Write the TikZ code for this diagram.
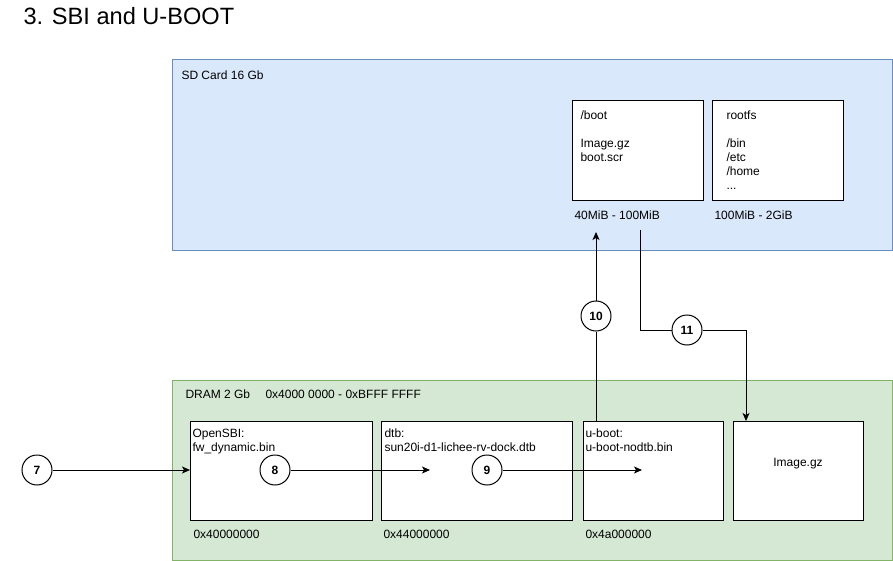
\documentclass[tikz,border=0pt]{standalone}
\usepackage{fontspec}
\setmainfont{Liberation Sans}
\usetikzlibrary{positioning}
\usetikzlibrary{arrows.meta}

\definecolor{sdfill}{HTML}{DAE8FC}
\definecolor{sdline}{HTML}{6C8EBF}
\definecolor{ramfill}{HTML}{D5E8D4}
\definecolor{ramline}{HTML}{82B366}

\begin{document}
\begin{tikzpicture}
  [x=1pt,y=-1pt,line width=1pt,
  every node/.style={font=\fontsize{12}{14}\selectfont},
  area/.style={draw,anchor=north west,inner sep=0pt,minimum width=720pt},
  part/.style={draw=black,fill=white,anchor=north west,inner sep=0pt,minimum height=99pt},
  txt/.style={anchor=north west,inner sep=0pt,align=left},
  stepno/.style={circle,draw=black,fill=white,minimum size=30pt,inner sep=0pt,font=\fontsize{12}{14}\selectfont\bfseries},
  arr/.style={-{Stealth[length=8pt,width=7pt,inset=2pt]}}]
  \useasboundingbox (0,0) rectangle (893,561);

  \node[txt,font=\fontsize{23.6}{27}\selectfont] (title) at (23,6.5) {3. SBI and U-BOOT};

  % sd card
  \node[area,fill=sdfill,draw=sdline,minimum height=191pt] (sd) at (172,59) {};
  \node[txt] (sdtxt) at (181,70.6) {SD Card 16 Gb};
  \node[part,minimum width=131pt,minimum height=100pt] (boot) at (572,100) {};
  \node[part,minimum width=131pt,minimum height=100pt] (rootfs) at (712,100) {};
  \node[txt] (boottxt) at (580,110.6) {/boot\\[14pt]Image.gz\\boot.scr};
  \node[txt] (rootfstxt) at (726,110.6) {rootfs\\[14pt]/bin\\/etc\\/home\\...};
  \node[txt] (bootsize) at (574,210.6) {40MiB - 100MiB};
  \node[txt] (rootfssize) at (714,210.6) {100MiB - 2GiB};

  % dram
  \node[area,fill=ramfill,draw=ramline,minimum height=180pt] (dram) at (172,380) {};
  \node[txt] (dramtxt) at (185,389.6) {DRAM 2 Gb};
  \node[txt] (dramrange) at (265,389.6) {0x4000 0000 - 0xBFFF FFFF};
  \node[part,minimum width=182pt] (sbi) at (190,421) {};
  \node[part,minimum width=191pt] (dtb) at (381,421) {};
  \node[part,minimum width=140pt] (uboot) at (583,421) {};
  \node[part,minimum width=130pt] (img) at (733,421) {};
  \node[txt] (sbitxt) at (192,428.6) {OpenSBI:\\fw\_dynamic.bin};
  \node[txt] (dtbtxt) at (384,428.6) {dtb:\\sun20i-d1-lichee-rv-dock.dtb};
  \node[txt] (uboottxt) at (585,428.6) {u-boot:\\u-boot-nodtb.bin};
  \node (imgtxt) at (798,464) {Image.gz};
  \node[txt] (sbiaddr) at (193,529.6) {0x40000000};
  \node[txt] (dtbaddr) at (383,529.6) {0x44000000};
  \node[txt] (ubootaddr) at (585,529.6) {0x4a000000};

  % steps
  \node[stepno] (c7) at (37,470) {7};
  \node[stepno] (c8) at (275,470) {8};
  \node[stepno] (c9) at (487,470) {9};
  \node[stepno] (c10) at (596,316) {10};
  \node[stepno] (c11) at (687,330) {11};

  \coordinate (dtbin) at (430,470);
  \coordinate (ubootin) at (642,470);
  \coordinate (ubootout) at (596,421);
  \coordinate (bootin) at (596,232);
  \coordinate (bootout) at (640,230);
  \coordinate (imgin) at (746,421);

  \draw[arr] (c7) -- (c7 -| sbi.west);
  \draw[arr] (c8) -- (dtbin);
  \draw[arr] (c9) -- (ubootin);
  \draw (ubootout) -- (c10);
  \draw[arr] (c10) -- (bootin);
  \draw (bootout) |- (c11);
  \draw[arr] (c11) -| (imgin);
\end{tikzpicture}
\end{document}
